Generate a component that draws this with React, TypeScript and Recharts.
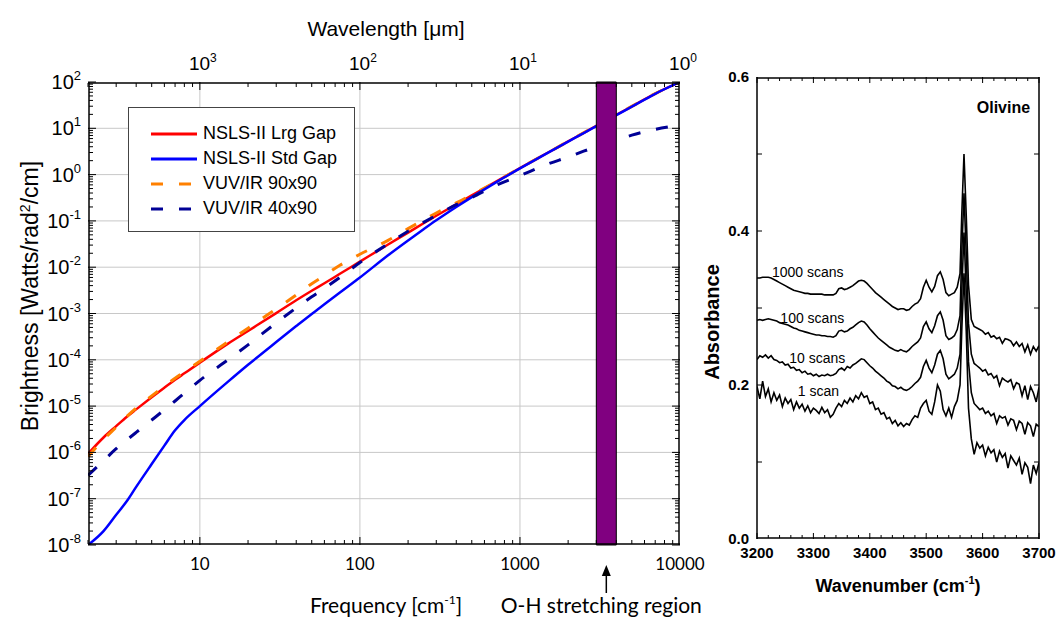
import {
  LineChart, Line, XAxis, YAxis, ReferenceLine, ReferenceArea, ReferenceDot, Legend,
} from 'recharts'

const INK = '#000'
const GRID = '#c8c8c8'
const ARIAL = '"Liberation Sans", Arial, sans-serif'
const NARROW = '"Liberation Sans Narrow", "Arial Narrow", "Liberation Sans", Arial, sans-serif'
const CALIBRI = 'Lato, "Open Sans", sans-serif'

// ---- left panel: brightness vs frequency (log-log) ----
const FREQ = [2, 2.5, 3, 3.5, 4, 5, 6, 7, 8, 10, 15, 20, 30, 40, 50, 60, 75, 100, 150, 200, 250, 300, 400, 500, 700, 1000, 1500, 2000, 2500, 3000, 4000, 5000, 7000, 10000]
const LRG_GAP = [9.3e-7, 2.1e-6, 3.7e-6, 5.9e-6, 8.5e-6, 1.55e-5, 2.5e-5, 3.7e-5, 5.1e-5, 8.7e-5, 2.24e-4, 4.2e-4, 1.02e-3, 1.93e-3, 3.1e-3, 4.5e-3, 7.2e-3, 1.32e-2, 3.1e-2, 5.6e-2, 8.9e-2, 0.129, 0.229, 0.355, 0.69, 1.38, 3.0, 5.2, 8.0, 11.3, 19.5, 29.7, 56, 100]
const STD_GAP = [1.0e-8, 2.0e-8, 4.5e-8, 8.9e-8, 1.8e-7, 5.6e-7, 1.4e-6, 3.0e-6, 5.0e-6, 1.0e-5, 3.37e-5, 7.8e-5, 2.42e-4, 5.35e-4, 9.8e-4, 1.58e-3, 2.83e-3, 5.98e-3, 1.81e-2, 3.78e-2, 6.6e-2, 0.103, 0.2, 0.327, 0.664, 1.36, 2.99, 5.15, 7.9, 11.1, 19.2, 29.3, 55.6, 100]
const VUV_90 = [8.1e-7, 1.9e-6, 3.5e-6, 6.0e-6, 9.1e-6, 1.66e-5, 2.7e-5, 4.0e-5, 5.5e-5, 9.3e-5, 2.45e-4, 4.8e-4, 1.26e-3, 2.5e-3, 4.4e-3, 6.6e-3, 1.1e-2, 1.9e-2, 3.8e-2, 6.8e-2, 0.105, 0.148, 0.245, 0.363, 0.69, 1.38, 3.0, 5.2, 8.0, 11.3, 19.5, 29.7, 56, 100]
const VUV_40 = [3.2e-7, 6.6e-7, 1.2e-6, 1.86e-6, 2.7e-6, 5.0e-6, 8.3e-6, 1.29e-5, 1.9e-5, 3.6e-5, 1.0e-4, 2.1e-4, 6.3e-4, 1.32e-3, 2.3e-3, 3.5e-3, 6.0e-3, 1.26e-2, 3.2e-2, 6.0e-2, 9.3e-2, 0.132, 0.224, 0.32, 0.575, 0.95, 1.7, 2.4, 3.2, 4.0, 5.5, 7.1, 9.5, 11.7]

// draw order: red, orange, blue, navy
const SERIES = [
  { name: 'NSLS-II Lrg Gap', color: '#ff0000', dash: undefined, width: 2.5, values: LRG_GAP },
  { name: 'VUV/IR 90x90', color: '#ff8000', dash: '12 16', width: 3, values: VUV_90 },
  { name: 'NSLS-II Std Gap', color: '#0000ff', dash: undefined, width: 2.5, values: STD_GAP },
  { name: 'VUV/IR 40x90', color: '#000096', dash: '12 16', width: 3, values: VUV_40 },
]
const LEGEND_ORDER = ['NSLS-II Lrg Gap', 'NSLS-II Std Gap', 'VUV/IR 90x90', 'VUV/IR 40x90']

const FREQ_TICKS = [10, 100, 1000, 10000]
const FREQ_MAJOR = [10, 100, 1000]
const FREQ_MINOR = [2, 3, 4, 5, 6, 7, 8, 9, 20, 30, 40, 50, 60, 70, 80, 90, 200, 300, 400, 500, 600, 700, 800, 900, 2000, 3000, 4000, 5000, 6000, 7000, 8000, 9000]
const B_TICKS = [1e-8, 1e-7, 1e-6, 1e-5, 1e-4, 1e-3, 1e-2, 1e-1, 1, 10, 100]
const B_MINOR = B_TICKS.slice(0, -1).flatMap((d) => [2, 3, 4, 5, 6, 7, 8, 9].map((m) => m * d))
const OH_BAND = [3000, 4000]

// ---- right panel: olivine OH absorbance ----
const WAVENUMBER = [
  3200, 3205, 3210, 3215, 3220, 3225, 3230, 3235, 3240, 3245,
  3250, 3255, 3260, 3265, 3270, 3275, 3280, 3285, 3290, 3295,
  3300, 3305, 3310, 3315, 3320, 3325, 3330, 3335, 3340, 3345,
  3350, 3355, 3360, 3365, 3370, 3375, 3380, 3385, 3390, 3395,
  3400, 3405, 3410, 3415, 3420, 3425, 3430, 3435, 3440, 3445,
  3450, 3455, 3460, 3465, 3470, 3475, 3480, 3485, 3490, 3495,
  3500, 3505, 3510, 3515, 3520, 3525, 3530, 3535, 3540, 3545,
  3550, 3555, 3560, 3563, 3567, 3571, 3575, 3580, 3585, 3590,
  3595, 3600, 3605, 3610, 3615, 3620, 3625, 3630, 3635, 3640,
  3645, 3650, 3655, 3660, 3665, 3670, 3675, 3680, 3685, 3690,
  3695, 3700,
]
const SCANS_1000 = [
  0.339, 0.339, 0.340, 0.340, 0.340, 0.339, 0.337, 0.335, 0.333, 0.331,
  0.329, 0.327, 0.325, 0.323, 0.322, 0.321, 0.320, 0.319, 0.319, 0.318,
  0.318, 0.318, 0.318, 0.318, 0.317, 0.317, 0.317, 0.317, 0.319, 0.325,
  0.326, 0.324, 0.325, 0.327, 0.329, 0.332, 0.335, 0.336, 0.335, 0.332,
  0.328, 0.324, 0.320, 0.317, 0.314, 0.311, 0.308, 0.305, 0.302, 0.300,
  0.298, 0.299, 0.299, 0.297, 0.298, 0.302, 0.305, 0.307, 0.312, 0.327,
  0.336, 0.327, 0.321, 0.328, 0.342, 0.347, 0.337, 0.320, 0.316, 0.318,
  0.320, 0.327, 0.345, 0.420, 0.500, 0.420, 0.330, 0.285, 0.276, 0.274,
  0.272, 0.270, 0.266, 0.268, 0.262, 0.264, 0.260, 0.262, 0.254, 0.260,
  0.259, 0.257, 0.251, 0.256, 0.250, 0.254, 0.243, 0.252, 0.240, 0.250,
  0.244, 0.251,
]
const SCANS_100 = [
  0.284, 0.285, 0.284, 0.285, 0.286, 0.285, 0.284, 0.283, 0.281, 0.280,
  0.279, 0.278, 0.276, 0.274, 0.273, 0.271, 0.270, 0.269, 0.268, 0.267,
  0.266, 0.265, 0.265, 0.264, 0.264, 0.263, 0.263, 0.262, 0.264, 0.270,
  0.271, 0.269, 0.270, 0.273, 0.275, 0.278, 0.281, 0.283, 0.282, 0.278,
  0.273, 0.269, 0.265, 0.261, 0.258, 0.255, 0.252, 0.249, 0.247, 0.245,
  0.244, 0.246, 0.244, 0.243, 0.246, 0.250, 0.253, 0.256, 0.261, 0.276,
  0.282, 0.273, 0.268, 0.277, 0.290, 0.295, 0.284, 0.264, 0.259, 0.261,
  0.264, 0.272, 0.290, 0.370, 0.449, 0.370, 0.280, 0.240, 0.228, 0.225,
  0.222, 0.218, 0.220, 0.213, 0.215, 0.209, 0.212, 0.199, 0.209, 0.206,
  0.204, 0.207, 0.195, 0.203, 0.201, 0.186, 0.199, 0.181, 0.198, 0.190,
  0.178, 0.197,
]
const SCANS_10 = [
  0.233, 0.238, 0.236, 0.239, 0.235, 0.238, 0.233, 0.232, 0.229, 0.230,
  0.226, 0.227, 0.222, 0.223, 0.219, 0.220, 0.216, 0.218, 0.214, 0.215,
  0.212, 0.214, 0.211, 0.213, 0.212, 0.214, 0.212, 0.213, 0.215, 0.220,
  0.222, 0.219, 0.224, 0.222, 0.226, 0.228, 0.231, 0.234, 0.233, 0.229,
  0.225, 0.222, 0.218, 0.215, 0.212, 0.209, 0.205, 0.203, 0.199, 0.198,
  0.195, 0.197, 0.194, 0.193, 0.195, 0.198, 0.202, 0.205, 0.210, 0.224,
  0.232, 0.222, 0.216, 0.226, 0.240, 0.245, 0.234, 0.214, 0.208, 0.211,
  0.214, 0.222, 0.240, 0.320, 0.398, 0.320, 0.230, 0.190, 0.176, 0.172,
  0.168, 0.170, 0.163, 0.166, 0.160, 0.163, 0.150, 0.160, 0.157, 0.159,
  0.148, 0.156, 0.154, 0.142, 0.153, 0.150, 0.136, 0.151, 0.147, 0.133,
  0.149, 0.146,
]
const SCANS_1 = [
  0.198, 0.182, 0.205, 0.185, 0.195, 0.178, 0.190, 0.180, 0.187, 0.172,
  0.183, 0.176, 0.181, 0.168, 0.178, 0.170, 0.175, 0.166, 0.173, 0.164,
  0.170, 0.167, 0.163, 0.171, 0.164, 0.168, 0.158, 0.162, 0.170, 0.176,
  0.172, 0.180, 0.176, 0.183, 0.178, 0.186, 0.182, 0.190, 0.184, 0.186,
  0.176, 0.178, 0.168, 0.170, 0.162, 0.164, 0.156, 0.158, 0.150, 0.154,
  0.147, 0.151, 0.146, 0.150, 0.148, 0.155, 0.160, 0.158, 0.170, 0.176,
  0.180, 0.166, 0.162, 0.178, 0.200, 0.192, 0.168, 0.160, 0.170, 0.158,
  0.172, 0.180, 0.200, 0.270, 0.345, 0.270, 0.170, 0.130, 0.110, 0.125,
  0.118, 0.122, 0.108, 0.119, 0.112, 0.116, 0.100, 0.114, 0.106, 0.111,
  0.092, 0.108, 0.102, 0.096, 0.105, 0.084, 0.099, 0.093, 0.072, 0.096,
  0.085, 0.099,
]
const WN_TICKS = [3200, 3300, 3400, 3500, 3600, 3700]
const WN_MINOR = [3220, 3240, 3260, 3280, 3320, 3340, 3360, 3380, 3420, 3440, 3460, 3480, 3520, 3540, 3560, 3580, 3620, 3640, 3660, 3680]
const ABS_TICKS = [0, 0.2, 0.4, 0.6]
const ABS_MINOR = [0.1, 0.2, 0.3, 0.4, 0.5]
const SCAN_LABELS = [
  { text: '1000 scans', w: 3290, a: 0.347 },
  { text: '100 scans', w: 3298, a: 0.287 },
  { text: '10 scans', w: 3307, a: 0.235 },
  { text: '1 scan', w: 3309, a: 0.192 },
]

// ---------- left panel pieces ----------
function PowerTick({ x, y, payload }: any) {
  const exp = Math.round(Math.log10(payload.value))
  return (
    <text x={x + 1} y={y + 7} textAnchor="end" fontFamily={NARROW} fontSize={20} fill={INK}>
      10<tspan dy={-9} fontSize={13}>{exp}</tspan>
    </text>
  )
}

// wavelength [um] = 1e4 / frequency [cm^-1]
function WavelengthTick({ x, y, payload }: any) {
  const exp = Math.round(4 - Math.log10(payload.value))
  return (
    <text x={x + 3} y={y - 4} textAnchor="middle" fontFamily={NARROW} fontSize={19} fill={INK}>
      10<tspan dy={-8} fontSize={12}>{exp}</tspan>
    </text>
  )
}

// tick lines only, no text
const NoLabel = () => <g />

function FrequencyTitle({ viewBox }: any) {
  const { x, y, width } = viewBox
  return (
    <text x={x + width / 2 + 2} y={y + 68} textAnchor="middle" fontFamily={CALIBRI} fontSize={21} fill={INK}>
      Frequency [cm<tspan dy={-9} fontSize={12}>-1</tspan><tspan dy={9}>]</tspan>
    </text>
  )
}

function WavelengthTitle({ viewBox }: any) {
  const { x, width } = viewBox
  return (
    <text x={x + width / 2 + 2} y={36} textAnchor="middle" fontFamily={ARIAL} fontSize={21} fill={INK}>
      Wavelength [μm]
    </text>
  )
}

function BrightnessTitle() {
  return (
    <text x={38} y={296} transform="rotate(-90, 38, 296)" textAnchor="middle" fontFamily={ARIAL} fontSize={23} fill={INK}>
      Brightness [Watts/rad<tspan dy={-8} fontSize={14}>2</tspan><tspan dy={8}>/cm]</tspan>
    </text>
  )
}

function OHMarker({ viewBox }: any) {
  if (!viewBox) return null
  const cx = viewBox.x + viewBox.width / 2
  const base = viewBox.y + viewBox.height
  return (
    <g>
      <line x1={cx} y1={base + 48} x2={cx} y2={base + 28} stroke={INK} strokeWidth={1.5} />
      <path d={`M${cx},${base + 20} L${cx - 4.5},${base + 31} L${cx + 4.5},${base + 31} Z`} fill={INK} />
      <text x={cx - 5} y={base + 68} textAnchor="middle" fontFamily={CALIBRI} fontSize={21} fill={INK}>
        O-H stretching region
      </text>
    </g>
  )
}

function LegendBox({ payload }: any) {
  const items = LEGEND_ORDER.map((n) => (payload || []).find((p: any) => p.value === n)).filter(Boolean)
  return (
    <div style={{ width: 227, height: 125, boxSizing: 'border-box', border: '1px solid #444', background: '#fff', padding: '13px 0 0 22px', fontFamily: ARIAL, fontSize: 18, color: INK }}>
      {items.map((p: any) => {
        const s = SERIES.find((q) => q.name === p.value)
        return (
          <div key={p.value} style={{ display: 'flex', alignItems: 'center', height: 25 }}>
            <svg width={46} height={10} style={{ marginRight: 6 }}>
              <line x1={0} y1={5} x2={46} y2={5} stroke={p.color} strokeWidth={3} strokeDasharray={s?.dash} />
            </svg>
            <span>{p.value}</span>
          </div>
        )
      })}
    </div>
  )
}

const logX = { type: 'number' as const, scale: 'log' as const, domain: [2, 10000], allowDataOverflow: true, dataKey: 'f' }
const logY = { type: 'number' as const, scale: 'log' as const, domain: [1e-8, 100], allowDataOverflow: true }

// mirrored axes with no labels: they draw the plot frame and the inward tick marks
function frameX(id: string, orientation: 'top' | 'bottom', ticks: number[], size: number, line: boolean, base: object) {
  return (
    <XAxis key={id} xAxisId={id} orientation={orientation} mirror height={1} {...base} ticks={ticks} interval={0}
      tick={NoLabel} tickSize={size} tickLine={{ stroke: INK, strokeWidth: 1 }}
      axisLine={line ? { stroke: INK, strokeWidth: 1.5 } : false} />
  )
}
function frameY(id: string, orientation: 'left' | 'right', ticks: number[], size: number, line: boolean, base: object) {
  return (
    <YAxis key={id} yAxisId={id} orientation={orientation} mirror width={1} {...base} ticks={ticks} interval={0}
      tick={NoLabel} tickSize={size} tickLine={{ stroke: INK, strokeWidth: 1 }}
      axisLine={line ? { stroke: INK, strokeWidth: 1.5 } : false} />
  )
}

function BrightnessChart() {
  return (
    <LineChart width={720} height={620} margin={{ top: 0, right: 40, bottom: 0, left: 0 }}>
      <XAxis xAxisId="f" {...logX} ticks={FREQ_TICKS} interval={0} height={75} tickLine={false} axisLine={false}
        tickMargin={7} tick={{ fontFamily: CALIBRI, fontSize: 17, fill: INK }} label={FrequencyTitle} />
      <XAxis xAxisId="top" orientation="top" {...logX} ticks={FREQ_TICKS} interval={0} height={82} tickLine={false}
        axisLine={false} tick={WavelengthTick} label={WavelengthTitle} />
      {frameX('fMinB', 'bottom', FREQ_MINOR, 4, true, logX)}
      {frameX('fMajB', 'bottom', FREQ_MAJOR, 8, false, logX)}
      {frameX('fMinT', 'top', FREQ_MINOR, 4, true, logX)}
      {frameX('fMajT', 'top', FREQ_MAJOR, 8, false, logX)}
      <YAxis yAxisId="b" {...logY} ticks={B_TICKS} interval={0} width={88} tickLine={false} axisLine={false}
        tick={PowerTick} label={BrightnessTitle} />
      {frameY('bMinL', 'left', B_MINOR, 4, true, logY)}
      {frameY('bMajL', 'left', B_TICKS, 8, false, logY)}
      {frameY('bMinR', 'right', B_MINOR, 4, true, logY)}
      {frameY('bMajR', 'right', B_TICKS, 8, false, logY)}
      {B_TICKS.slice(1, -1).map((d) => (
        <ReferenceLine key={`gy${d}`} xAxisId="f" yAxisId="b" y={d} stroke={GRID} strokeWidth={1} zIndex={-50} />
      ))}
      {FREQ_MAJOR.map((f) => (
        <ReferenceLine key={`gx${f}`} xAxisId="f" yAxisId="b" x={f} stroke={GRID} strokeWidth={1} zIndex={-50} />
      ))}
      {SERIES.map((s) => (
        <Line key={s.name} xAxisId="f" yAxisId="b" name={s.name} type="monotone" dataKey="b"
          data={FREQ.map((f, i) => ({ f, b: s.values[i] }))} stroke={s.color} strokeWidth={s.width}
          strokeDasharray={s.dash} dot={false} activeDot={false} isAnimationActive={false} />
      ))}
      <ReferenceArea xAxisId="f" yAxisId="b" x1={OH_BAND[0]} x2={OH_BAND[1]} fill="#800080" fillOpacity={1}
        stroke={INK} strokeWidth={1} zIndex={450} label={OHMarker} />
      <Legend layout="vertical" align="center" verticalAlign="middle" content={LegendBox}
        wrapperStyle={{ left: 128, top: 107, width: 227, height: 125 }} />
    </LineChart>
  )
}

// ---------- right panel pieces ----------
function WavenumberTitle({ viewBox }: any) {
  const { x, y, width } = viewBox
  return (
    <text x={x + width / 2} y={y + 53} textAnchor="middle" fontFamily={ARIAL} fontWeight="bold" fontSize={18} fill={INK}>
      Wavenumber (cm<tspan dy={-8} fontSize={11}>-1</tspan><tspan dy={8}>)</tspan>
    </text>
  )
}

function AbsorbanceTitle() {
  return (
    <text x={19} y={322} transform="rotate(-90, 19, 322)" textAnchor="middle" fontFamily={ARIAL} fontWeight="bold" fontSize={20} fill={INK}>
      Absorbance
    </text>
  )
}

const linX = { type: 'number' as const, domain: [3200, 3700], allowDataOverflow: true, dataKey: 'w' }
const linY = { type: 'number' as const, domain: [0, 0.6], allowDataOverflow: true }

function AbsorbanceChart() {
  const rows = WAVENUMBER.map((w, i) => ({ w, s1000: SCANS_1000[i], s100: SCANS_100[i], s10: SCANS_10[i], s1: SCANS_1[i] }))
  const keys = ['s1000', 's100', 's10', 's1']
  return (
    <LineChart width={357} height={620} data={rows} margin={{ top: 77, right: 18, bottom: 0, left: 0 }}>
      <XAxis xAxisId="w" {...linX} ticks={WN_TICKS} interval={0} height={81} tickLine={false} axisLine={false}
        tick={{ fontFamily: ARIAL, fontWeight: 'bold', fontSize: 15, fill: INK }} label={WavenumberTitle} />
      {frameX('wMinB', 'bottom', WN_MINOR, 3, true, linX)}
      {frameX('wMajB', 'bottom', WN_TICKS, 6, false, linX)}
      {frameX('wMinT', 'top', WN_MINOR, 3, true, linX)}
      {frameX('wMajT', 'top', WN_TICKS, 6, false, linX)}
      <YAxis yAxisId="a" {...linY} ticks={ABS_TICKS} interval={0} width={57} tickLine={false} axisLine={false}
        tickFormatter={(v: number) => v.toFixed(1)}
        tick={{ fontFamily: ARIAL, fontWeight: 'bold', fontSize: 15, fill: INK }} label={AbsorbanceTitle} />
      {frameY('aL', 'left', ABS_MINOR, 5, true, linY)}
      {frameY('aR', 'right', ABS_MINOR, 5, true, linY)}
      {keys.map((k) => (
        <Line key={k} xAxisId="w" yAxisId="a" type="linear" dataKey={k} stroke={INK} strokeWidth={1.6}
          dot={false} activeDot={false} isAnimationActive={false} />
      ))}
      {SCAN_LABELS.map((l) => (
        <ReferenceDot key={l.text} xAxisId="w" yAxisId="a" x={l.w} y={l.a} r={0} fill="none" stroke="none"
          label={{ value: l.text, position: 'center', fontFamily: ARIAL, fontSize: 14, fill: INK }} />
      ))}
      <ReferenceDot xAxisId="w" yAxisId="a" x={3637} y={0.561} r={0} fill="none" stroke="none"
        label={{ value: 'Olivine', position: 'center', fontFamily: ARIAL, fontWeight: 'bold', fontSize: 16, fill: INK }} />
    </LineChart>
  )
}

export default function App() {
  return (
    <div style={{ position: 'absolute', left: 0, top: 0, width: 1057, height: 620, background: '#fff', overflow: 'hidden' }}>
      <div style={{ position: 'absolute', left: 0, top: 0 }}>
        <BrightnessChart />
      </div>
      <div style={{ position: 'absolute', left: 700, top: 0 }}>
        <AbsorbanceChart />
      </div>
    </div>
  )
}
